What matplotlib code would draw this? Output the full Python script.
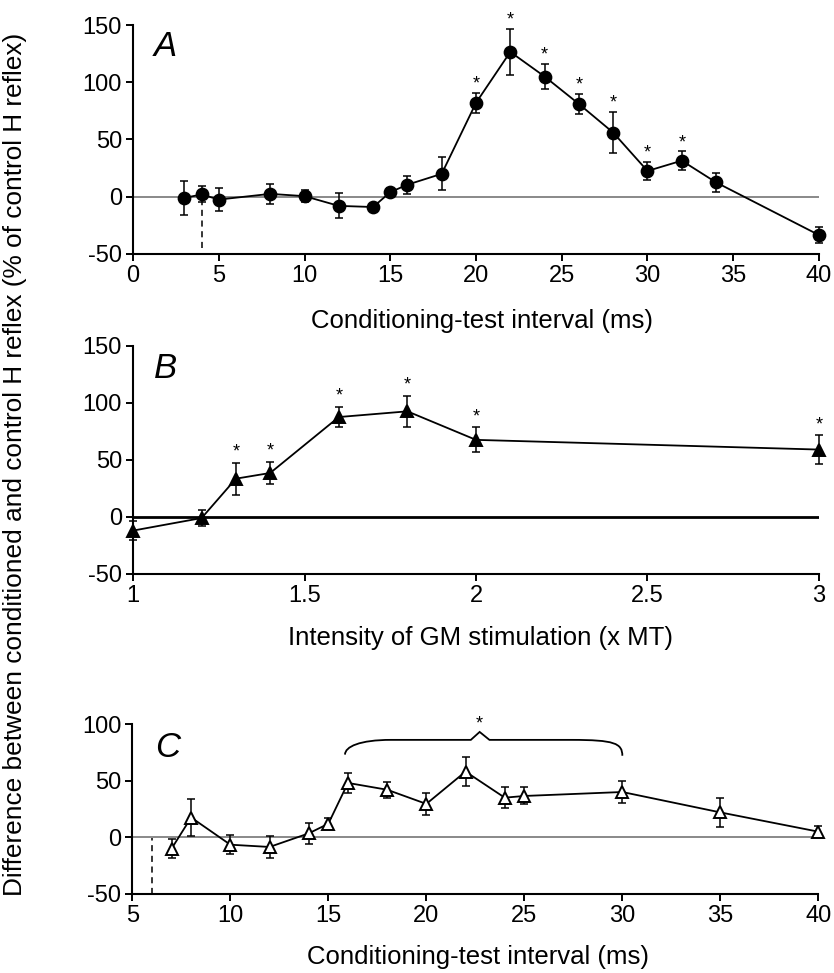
"""
plot.py
Three-panel figure: facilitation of the H reflex (A: interval, B: intensity,
C: interval at another intensity), means +/- SEM with significance stars.
"""

import numpy as np
import matplotlib
matplotlib.use("Agg")
import matplotlib.pyplot as plt
from matplotlib.path import Path
from matplotlib.patches import PathPatch

plt.rcParams["font.family"] = ["Liberation Sans", "DejaVu Sans"]
plt.rcParams["axes.unicode_minus"] = False

# ---- panel A: conditioning-test interval (ms) ----
A_X = [3, 4, 5, 8, 10, 12, 14, 15, 16, 18, 20, 22, 24, 26, 28, 30, 32, 34, 40]
A_Y = [-1, 2, -2.5, 2.5, 0.5, -8, -9, 4, 10.5, 20, 82, 126.5, 105, 81, 56, 22.5, 31.5, 12.5, -33.5]
A_ERR = [15, 7, 10, 8.5, 5.5, 11, 3, 4, 8, 14.5, 9, 20, 11, 9, 18, 8, 8, 8.5, 7]
A_SIG = [20, 22, 24, 26, 28, 30, 32]
A_XTICKS = [0, 5, 10, 15, 20, 25, 30, 35, 40]
A_DASH_X = 4

# ---- panel B: intensity of GM stimulation (x MT) ----
B_X = [1.0, 1.2, 1.3, 1.4, 1.6, 1.8, 2.0, 3.0]
B_Y = [-12, -1, 33.5, 38.5, 87.5, 92.5, 67.5, 59]
B_ERR = [8, 7, 14, 10, 9, 13.5, 11, 12.5]
B_SIG = [1.3, 1.4, 1.6, 1.8, 2.0, 3.0]
B_XTICKS = [1, 1.5, 2, 2.5, 3]
B_XTICKLABELS = ["1", "1.5", "2", "2.5", "3"]

# ---- panel C: conditioning-test interval (ms) ----
C_X = [7, 8, 10, 12, 14, 15, 16, 18, 20, 22, 24, 25, 30, 35, 40]
C_Y = [-10, 17.5, -6.5, -8.5, 3.5, 12, 48, 42, 29.5, 58, 35, 36.5, 40, 22, 5]
C_ERR = [8.5, 16, 8.5, 9.5, 9.5, 5, 9, 7, 10, 13, 9.5, 7.5, 10, 13, 5]
C_SIG_RANGE = (16, 30)
C_XTICKS = [5, 10, 15, 20, 25, 30, 35, 40]
C_DASH_X = 6

YLABEL = "Difference between conditioned and control H reflex (% of control H reflex)"
XLABEL_MS = "Conditioning-test interval (ms)"
XLABEL_MT = "Intensity of GM stimulation (x MT)"

TICK_FS = 17
LABEL_FS = 18.5
LETTER_FS = 25
STAR_FS = 13


def style_axes(ax):
    for side in ("top", "right"):
        ax.spines[side].set_visible(False)
    for side in ("left", "bottom"):
        ax.spines[side].set_linewidth(1.5)
    ax.tick_params(direction="out", length=5, width=1.4, labelsize=TICK_FS, pad=3)


def draw_series(ax, x, y, err, marker, face):
    ax.errorbar(x, y, yerr=err, fmt="none", ecolor="black", elinewidth=1.1,
                capsize=3, capthick=1.1, zorder=3, clip_on=False)
    ax.plot(x, y, color="black", lw=1.3, marker=marker, ms=8.5,
            markerfacecolor=face, markeredgecolor="black", markeredgewidth=1.4,
            zorder=4, clip_on=False)


def add_stars(ax, x, y, err, sig, offset):
    for xi, yi, ei in zip(x, y, err):
        if xi in sig:
            ax.annotate("*", (xi, yi + ei), xytext=(0, offset), textcoords="offset points",
                        ha="center", va="baseline", fontsize=STAR_FS, zorder=5)


fig = plt.figure(figsize=(8.34, 9.73), dpi=100)

# panel A
axA = fig.add_axes([0.1595, 0.7390, 0.8225, 0.2353])
style_axes(axA)
axA.axhline(0, color="#808080", lw=1.3, zorder=1)
axA.plot([A_DASH_X, A_DASH_X], [-45, -5], color="black", lw=1.1, ls=(0, (4, 3)))
draw_series(axA, A_X, A_Y, A_ERR, "o", "black")
add_stars(axA, A_X, A_Y, A_ERR, A_SIG, 3)
axA.set_xlim(0, 40)
axA.set_ylim(-50, 150)
axA.set_xticks(A_XTICKS)
axA.set_yticks([-50, 0, 50, 100, 150])
axA.set_xlabel(XLABEL_MS, fontsize=LABEL_FS)
axA.xaxis.set_label_coords(0.509, -0.240)
axA.text(0.047, 0.906, "A", transform=axA.transAxes, fontsize=LETTER_FS,
         style="italic", ha="center", va="center")

# panel B
axB = fig.add_axes([0.1595, 0.4101, 0.8225, 0.2346])
style_axes(axB)
axB.axhline(0, color="black", lw=2.0, zorder=1)
draw_series(axB, B_X, B_Y, B_ERR, "^", "black")
add_stars(axB, B_X, B_Y, B_ERR, B_SIG, 4.5)
axB.set_xlim(1, 3)
axB.set_ylim(-50, 150)
axB.set_xticks(B_XTICKS)
axB.set_xticklabels(B_XTICKLABELS)
axB.set_yticks([-50, 0, 50, 100, 150])
axB.set_xlabel(XLABEL_MT, fontsize=LABEL_FS)
axB.xaxis.set_label_coords(0.507, -0.228)
axB.text(0.048, 0.900, "B", transform=axB.transAxes, fontsize=LETTER_FS,
         style="italic", ha="center", va="center")

# panel C
axC = fig.add_axes([0.1587, 0.0812, 0.8225, 0.1747])
style_axes(axC)
axC.axhline(0, color="#808080", lw=1.3, zorder=1)
axC.plot([C_DASH_X, C_DASH_X], [-50, -1], color="black", lw=1.1, ls=(0, (4, 3)))
draw_series(axC, C_X, C_Y, C_ERR, "^", "white")
axC.set_xlim(5, 40)
axC.set_ylim(-50, 100)
axC.set_xticks(C_XTICKS)
axC.set_yticks([-50, 0, 50, 100])
axC.set_xlabel(XLABEL_MS, fontsize=LABEL_FS)
axC.xaxis.set_label_coords(0.504, -0.30)
axC.text(0.0515, 0.859, "C", transform=axC.transAxes, fontsize=LETTER_FS,
         style="italic", ha="center", va="center")

# brace over the significant range in C
x0, x1 = C_SIG_RANGE
xm = x0 + 0.48 * (x1 - x0)
y_lo, y_hi, y_tip = 72, 86, 93
verts = [
    (x0 - 0.15, y_lo + 1), (x0 - 0.15, y_hi - 6), (x0 + 0.6, y_hi), (x0 + 2.2, y_hi),
    (xm - 0.45, y_hi), (xm, y_tip), (xm + 0.5, y_hi),
    (x1 - 2.6, y_hi), (x1 - 0.4, y_hi), (x1, y_hi - 3), (x1, y_lo),
]
codes = [Path.MOVETO, Path.CURVE4, Path.CURVE4, Path.CURVE4,
         Path.LINETO, Path.LINETO, Path.LINETO,
         Path.LINETO, Path.CURVE4, Path.CURVE4, Path.CURVE4]
axC.add_patch(PathPatch(Path(verts, codes), fill=False, lw=1.3, edgecolor="black",
                        clip_on=False))
axC.text(xm, y_tip + 3, "*", ha="center", va="baseline", fontsize=STAR_FS)

fig.text(0.018, 0.5226, YLABEL, rotation=90, ha="center", va="center", fontsize=18.9)

fig.savefig("out.png", dpi=100)
